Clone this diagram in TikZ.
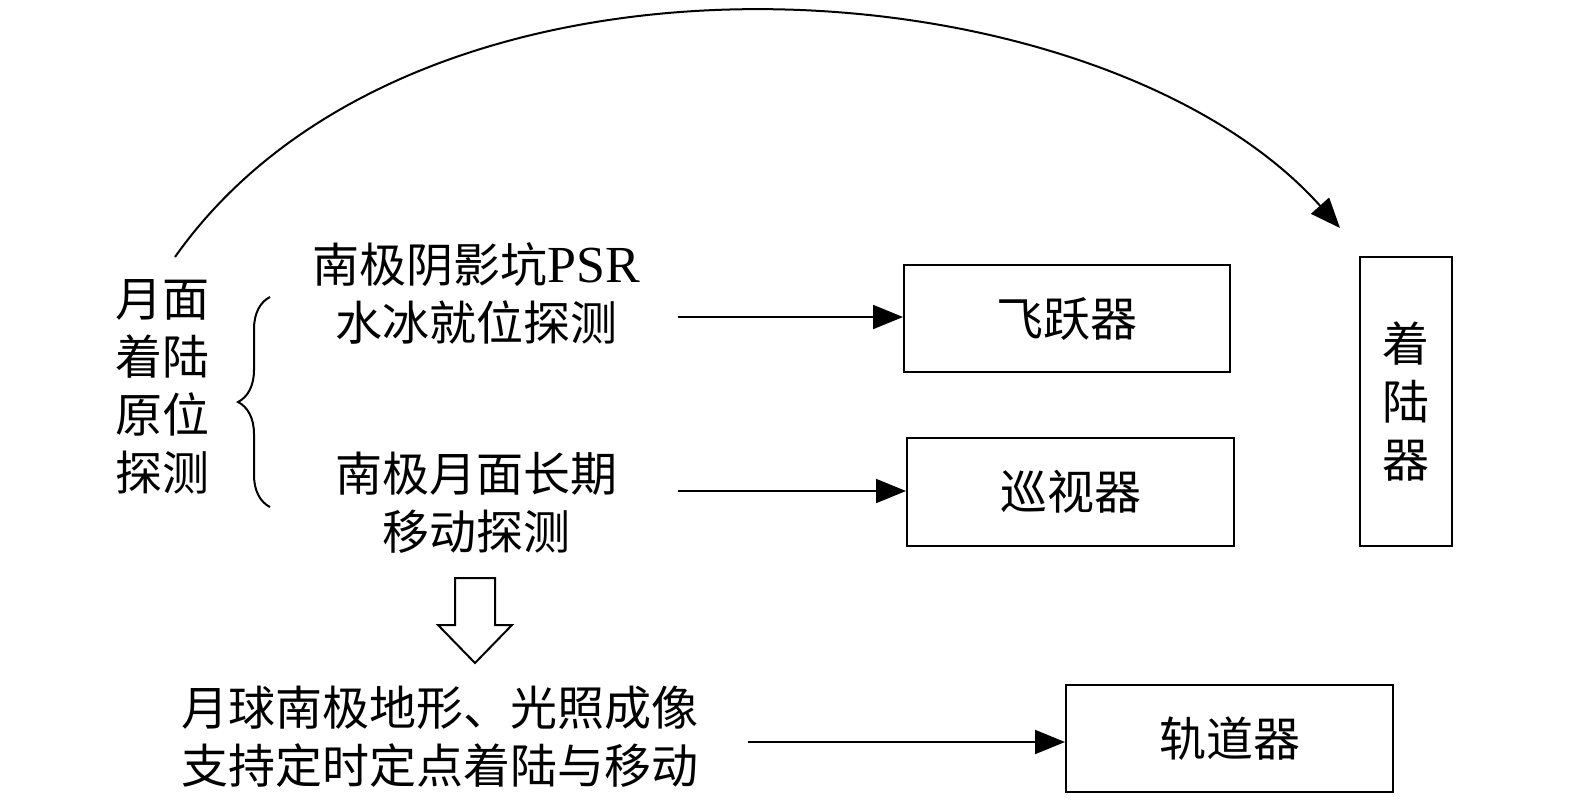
\documentclass[tikz,border=0pt]{standalone}
\usepackage{fontspec}
\setmainfont{Liberation Serif}
\newfontfamily\cjk{Noto Sans CJK SC}
\usetikzlibrary{arrows.meta,decorations.pathreplacing,shapes.arrows}
\begin{document}
\begin{tikzpicture}[x=0.5pt,y=-0.5pt,
  txt/.style={font=\cjk\fontsize{23.5}{29}\selectfont,align=center,inner sep=0},
  box/.style={draw,line width=1pt,inner sep=0},
  arr/.style={line width=1pt,-{Triangle[length=15pt,width=12pt]}}]
\useasboundingbox (0,0) rectangle (1575,799);
\node[txt] (side) at (162,387) {月面\\着陆\\原位\\探测};
\draw[line width=1pt,decorate,decoration={brace,amplitude=16pt}] (270,507) -- (270,297);
\node[txt] (t1) at (476,293) {南极阴影坑{\rmfamily\fontsize{26}{29}\selectfont PSR}\\水冰就位探测};
\node[txt] (t2) at (476,503) {南极月面长期\\移动探测};
\node[txt] (t3) at (440,737) {月球南极地形、光照成像\\支持定时定点着陆与移动};
\node[box,minimum width=163pt,minimum height=53.5pt,txt] (fly) at (1067,318.5) {飞跃器};
\node[box,minimum width=163.5pt,minimum height=54pt,txt] (rov) at (1070.5,492) {巡视器};
\node[box,minimum width=46pt,minimum height=144.5pt,txt] (lan) at (1406,401.5) {着\\陆\\器};
\node[box,minimum width=163.5pt,minimum height=53.5pt,txt] (orb) at (1229.5,738.5) {轨道器};
\coordinate (a1) at (678,317); \coordinate (a2) at (678,491); \coordinate (a3) at (748,742);
\draw[arr] (a1) -- (fly.west |- a1);
\draw[arr] (a2) -- (rov.west |- a2);
\draw[arr] (a3) -- (orb.west |- a3);
\coordinate (cs) at (175,257); \coordinate (ce) at (1340,228);
\draw[arr] (cs) .. controls (420,-90) and (1100,-40) .. (ce);
\draw[line width=1pt,line join=miter] (455,578) -- (495,578) -- (495,625) -- (512,625) -- (475,663) -- (438,625) -- (455,625) -- cycle;
\end{tikzpicture}
\end{document}
